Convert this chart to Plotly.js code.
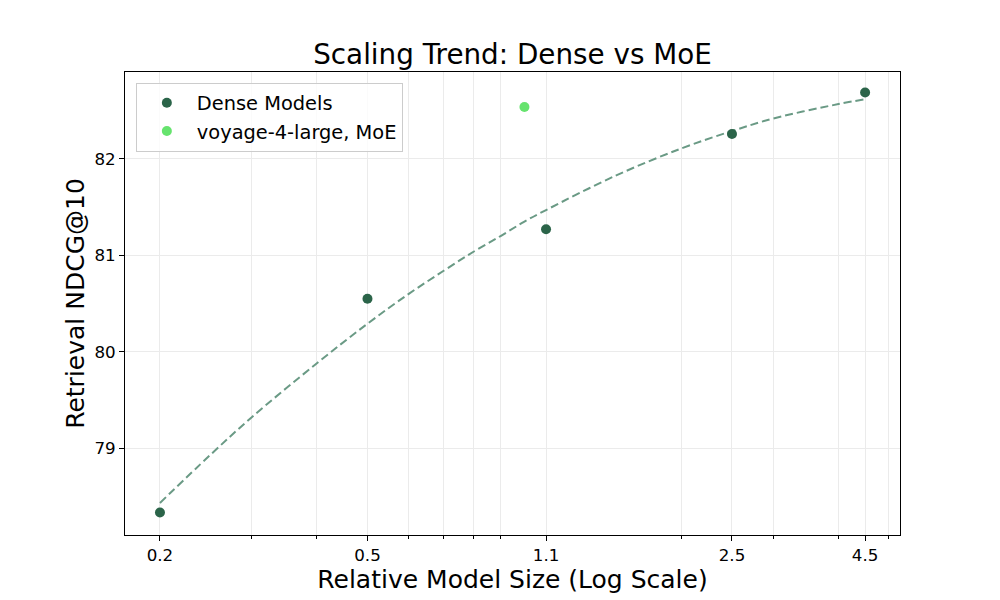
<!DOCTYPE html>
<html>
<head>
<meta charset="utf-8">
<script src="https://cdn.plot.ly/plotly-3.0.1.min.js"></script>
<style>
  html, body { margin: 0; padding: 0; background: #fff; }
  #plot { width: 1000px; height: 600px; }
</style>
</head>
<body>
<div id="plot"></div>
<script>
// dense model points (relative size, NDCG@10)
const denseSize = [0.2, 0.5, 1.1, 2.5, 4.5];
const denseScore = [78.33, 80.55, 81.27, 82.26, 82.69];

// MoE point
const moeSize = [1.0];
const moeScore = [82.54];

// dashed trend line
const trendSize = [0.2, 0.25, 0.3, 0.4, 0.5, 0.6, 0.7, 0.8, 0.9, 1.0, 1.1, 1.5, 2.0, 2.5, 3.0, 4.0, 4.5];
const trendScore = [78.43, 78.93, 79.32, 79.88, 80.29, 80.60, 80.84, 81.04, 81.20, 81.35, 81.47, 81.83, 82.11, 82.29, 82.42, 82.57, 82.62];

// axis ticks
const xMajor = [0.2, 0.5, 1.1, 2.5, 4.5];
const xMinor = [0.3, 0.4, 0.6, 0.7, 0.8, 0.9, 2, 3, 4, 5];
const yTicks = [79, 80, 81, 82];

const font = 'DejaVu Sans, sans-serif';

const data = [
    {
        x: trendSize, y: trendScore,
        mode: 'lines',
        line: {color: '#6a9a85', width: 2, dash: '8px,4px', shape: 'spline'},
        showlegend: false,
        hoverinfo: 'skip'
    },
    {
        x: denseSize, y: denseScore,
        mode: 'markers',
        name: 'Dense Models',
        marker: {color: '#2b6449', size: 10}
    },
    {
        x: moeSize, y: moeScore,
        mode: 'markers',
        name: 'voyage-4-large, MoE',
        marker: {color: '#66e36e', size: 10}
    }
];

const layout = {
    width: 1000, height: 600,
    margin: {l: 125, r: 100, t: 72, b: 65},
    paper_bgcolor: '#fff', plot_bgcolor: '#fff',
    font: {family: font, color: '#000', size: 16.7},
    title: {
        text: 'Scaling Trend: Dense vs MoE',
        font: {family: font, size: 27.8, color: '#000'},
        x: 0.5125, xanchor: 'center', y: 0.91, yanchor: 'middle'
    },
    xaxis: {
        type: 'log',
        range: [Math.log10(0.1714), Math.log10(5.25)],
        tickmode: 'array', tickvals: xMajor, ticktext: xMajor.map(String),
        ticks: 'outside', ticklen: 5, tickcolor: '#000',
        showgrid: true, gridcolor: '#ebebeb', gridwidth: 1,
        minor: {tickmode: 'array', tickvals: xMinor, ticks: 'outside', ticklen: 3, tickcolor: '#000',
                showgrid: true, gridcolor: '#ebebeb', gridwidth: 1},
        showline: true, linecolor: '#000', linewidth: 1, mirror: true,
        zeroline: false,
        tickfont: {size: 16.7},
        title: {text: 'Relative Model Size (Log Scale)', font: {size: 25}, standoff: 6}
    },
    yaxis: {
        range: [78.097, 82.903],
        tickmode: 'array', tickvals: yTicks,
        ticks: 'outside', ticklen: 5, tickcolor: '#000',
        showgrid: true, gridcolor: '#ebebeb', gridwidth: 1,
        showline: true, linecolor: '#000', linewidth: 1, mirror: true,
        zeroline: false,
        tickfont: {size: 16.7},
        title: {text: 'Retrieval NDCG@10', font: {size: 25}, standoff: 2}
    },
    legend: {
        x: 0.014, y: 0.977, xanchor: 'left', yanchor: 'top',
        bgcolor: 'rgba(255,255,255,0.8)', bordercolor: '#cccccc', borderwidth: 1,
        font: {size: 19.4},
        itemwidth: 50
    }
};

Plotly.newPlot('plot', data, layout, {displayModeBar: false});
</script>
</body>
</html>
